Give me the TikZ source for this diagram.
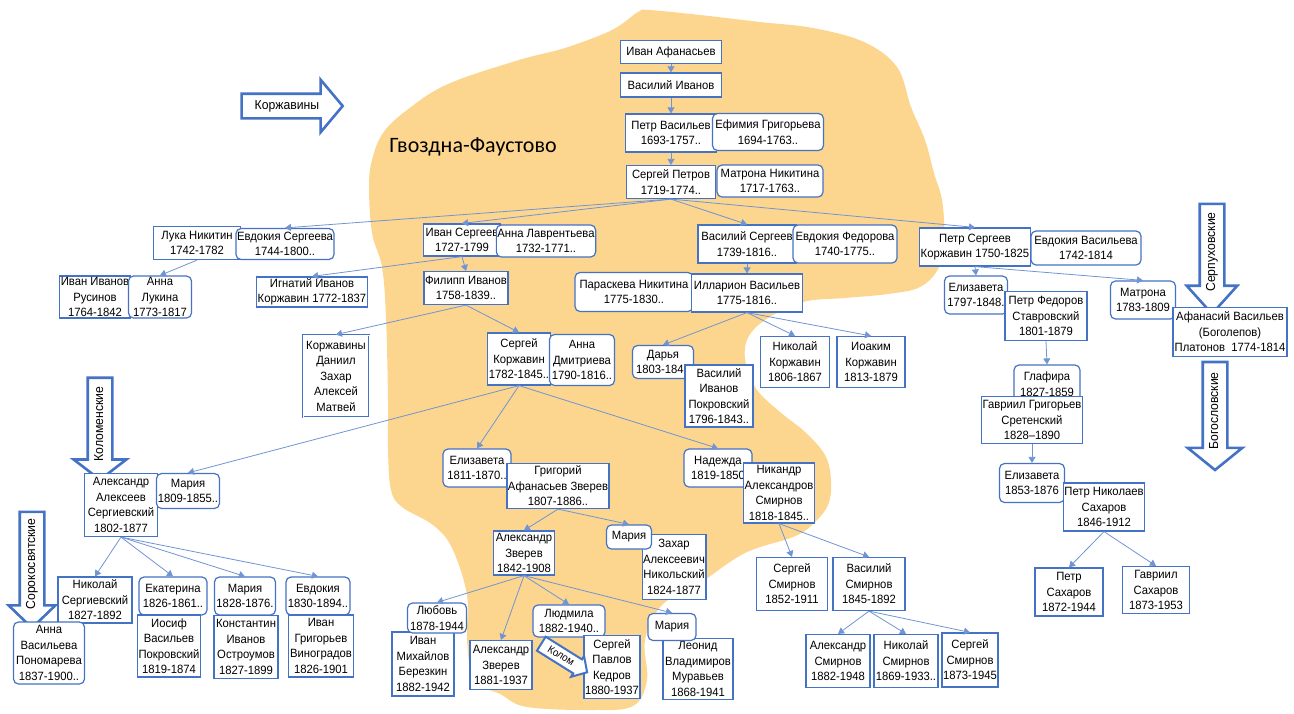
\documentclass[tikz,border=0pt]{standalone}
\usepackage{fontspec}
\setmainfont[FakeStretch=0.94]{Liberation Sans}
\newfontfamily\titlefont{Carlito}
\usetikzlibrary{arrows.meta,shapes.arrows}
\definecolor{boxblue}{RGB}{68,114,196}
\definecolor{linkblue}{RGB}{112,148,212}
\definecolor{blobfill}{RGB}{252,214,142}
\begin{document}
\begin{tikzpicture}[x=1pt, y=-1pt,
  every node/.style={font=\fontsize{12}{15.5}\selectfont, align=center, inner sep=1pt},
  man/.style={draw=boxblue, line width=1.2pt, fill=white},
  woman/.style={man, rounded corners=5pt},
  link/.style={draw=linkblue, line width=0.8pt, -{Triangle[length=6pt,width=7pt]}},
  clanarrow/.style={single arrow, draw=boxblue, line width=2.6pt, fill=white, font=\fontsize{13}{15}\selectfont,
    text height=9pt, text depth=3pt, inner xsep=3pt, inner ysep=5pt}]

\useasboundingbox (0,0) rectangle (1294,713);

\fill[blobfill] plot[smooth cycle, tension=0.6] coordinates {
  (649,10) (700,15) (760,22) (813,28) (864,42) (897,67) (911,107) (925,140)
  (934,173) (942,200) (944,233) (939,267) (920,287) (888,294) (845,298) (803,302)
  (765,320) (747,340) (746,365) (757,390) (780,412) (805,432) (825,455) (831,480)
  (828,505) (812,525) (793,537) (745,553) (700,583) (662,605) (645,640) (647,680)
  (633,706) (593,710) (527,707) (500,694) (474,680) (467,640) (467,595) (452,548)
  (433,525) (402,507) (391,490) (388,450) (388,400) (386,317) (382,267) (372,233)
  (369,187) (372,160) (383,133) (407,110) (448,84) (519,60) (565,48) (612,30) (638,12)};

\node[font=\titlefont\fontsize{22}{26}\selectfont] (place) at (473,147) {Гвоздна-Фаустово};

\node[clanarrow, minimum height=101, single arrow head extend=14pt, single arrow tip angle=100] (korzhar) at (287,106) {Коржавины};
\node[clanarrow, rotate=90, shape border rotate=180, minimum height=102, single arrow head extend=14pt, single arrow tip angle=105] (kolomar) at (100,424) {Коломенские};
\node[clanarrow, rotate=90, shape border rotate=180, minimum height=116, single arrow head extend=11pt, single arrow tip angle=92] (sorokar) at (32,564) {Сорокосвятские};
\node[clanarrow, rotate=90, shape border rotate=180, minimum height=110, single arrow head extend=13pt, single arrow tip angle=84] (serpar) at (1212,252) {Серпуховские};
\node[clanarrow, rotate=90, shape border rotate=180, minimum height=108, single arrow head extend=15pt, single arrow tip angle=102] (bogar) at (1215,411) {Богословские};

\node[man, minimum width=101, minimum height=23] (ivanaf) at (671,52) {Иван Афанасьев};
\node[man, minimum width=101, minimum height=24] (vasiv) at (671,85) {Василий Иванов};
\node[man, minimum width=91, minimum height=38] (petrv) at (671,133) {Петр Васильев\\1693-1757..};
\node[woman, minimum width=111, minimum height=37] (efim) at (768,132) {Ефимия Григорьева\\1694-1763..};
\node[man, minimum width=89, minimum height=33] (sergp) at (671,182) {Сергей Петров\\1719-1774..};
\node[woman, minimum width=106, minimum height=32] (matrn) at (770,181) {Матрона Никитина\\1717-1763..};

\node[man, minimum width=87, minimum height=33] (luka) at (197,243) {Лука Никитин\\1742-1782};
\node[woman, minimum width=97, minimum height=31] (evdse) at (285,244) {Евдокия Сергеева\\1744-1800..};
\node[man, minimum width=77, minimum height=32] (ivans) at (462,240) {Иван Сергеев\\1727-1799};
\node[woman, minimum width=99, minimum height=32] (annal) at (546,241) {Анна Лаврентьева\\1732-1771..};
\node[man, minimum width=98, minimum height=38] (vasse) at (747,244) {Василий Сергеев\\1739-1816..};
\node[woman, minimum width=104, minimum height=38] (evdfe) at (845,244) {Евдокия Федорова\\1740-1775..};
\node[man, minimum width=111, minimum height=38] (petrse) at (975,247) {Петр Сергеев\\Коржавин 1750-1825};
\node[woman, minimum width=110, minimum height=34] (evdva) at (1086,248) {Евдокия Васильева\\1742-1814};

\node[man, minimum width=71, minimum height=42] (ivaniv) at (95,297) {Иван Иванов\\Русинов\\1764-1842};
\node[woman, minimum width=63, minimum height=42] (annlu) at (160,297) {Анна\\Лукина\\1773-1817};
\node[man, minimum width=110, minimum height=30] (ignat) at (312,292) {Игнатий Иванов\\Коржавин 1772-1837};
\node[man, minimum width=82, minimum height=33] (filip) at (466,288) {Филипп Иванов\\1758-1839..};
\node[woman, minimum width=118, minimum height=39] (parask) at (634,292) {Параскева Никитина\\1775-1830..};
\node[man, minimum width=111, minimum height=38] (illar) at (747,293) {Илларион Васильев\\1775-1816..};
\node[woman, minimum width=63, minimum height=38] (eliz97) at (976,295) {Елизавета\\1797-1848.};
\node[man, minimum width=82, minimum height=49] (petrf) at (1046,316) {Петр Федоров\\Ставровский\\1801-1879};
\node[woman, minimum width=65, minimum height=38] (matr83) at (1143,300) {Матрона\\1783-1809};
\node[man, minimum width=114, minimum height=49] (afan) at (1230,332) {Афанасий Васильев\\(Боголепов)\\Платонов\ \ 1774-1814};

\node[man, double, double distance=1pt, line width=0.8pt, minimum width=66, minimum height=82] (korzh) at (336,376) {Коржавины\\Даниил\\Захар\\Алексей\\Матвей};
\node[man, minimum width=61, minimum height=52] (sergk) at (519,359) {Сергей\\Коржавин\\1782-1845..};
\node[woman, minimum width=65, minimum height=51] (annd) at (582,360) {Анна\\Дмитриева\\1790-1816..};
\node[woman, minimum width=61, minimum height=33] (darya) at (663,362) {Дарья\\1803-1842};
\node[man, minimum width=68, minimum height=62] (vasip) at (719,396) {Василий\\Иванов\\Покровский\\1796-1843..};
\node[man, minimum width=69, minimum height=51] (nikk) at (795,362) {Николай\\Коржавин\\1806-1867};
\node[man, minimum width=68, minimum height=51] (ioak) at (871,362) {Иоаким\\Коржавин\\1813-1879};
\node[woman, minimum width=66, minimum height=38] (glaf) at (1047,384) {Глафира\\1827-1859};
\node[man, minimum width=100, minimum height=47] (gavr) at (1032,420) {Гавриил Григорьев\\Сретенский\\1828--1890};

\node[man, minimum width=73, minimum height=63] (aleks) at (121,505) {Александр\\Алексеев\\Сергиевский\\1802-1877};
\node[woman, minimum width=63, minimum height=35] (mar09) at (188,491) {Мария\\1809-1855..};
\node[woman, minimum width=68, minimum height=38] (eliz11) at (477,468) {Елизавета\\1811-1870..};
\node[man, minimum width=102, minimum height=45] (grig) at (558,486) {Григорий\\Афанасьев Зверев\\1807-1886..};
\node[woman, minimum width=68, minimum height=38] (nadez) at (718,468) {Надежда\\1819-1850};
\node[man, minimum width=71, minimum height=60] (nikand) at (779,493) {Никандр\\Александров\\Смирнов\\1818-1845..};
\node[woman, minimum width=65, minimum height=39] (eliz53) at (1032,483) {Елизавета\\1853-1876};
\node[man, minimum width=78, minimum height=48] (petrn) at (1104,507) {Петр Николаев\\Сахаров\\1846-1912};

\node[man, minimum width=61, minimum height=44] (alexz) at (524,553) {Александр\\Зверев\\1842-1908};
\node[man, minimum width=63, minimum height=65] (zakh) at (674,567) {Захар\\Алексеевич\\Никольский\\1824-1877};
\node[woman, minimum width=45, minimum height=24] (marz) at (629,537) {Мария};
\node[man, minimum width=71, minimum height=53] (serss) at (792,584) {Сергей\\Смирнов\\1852-1911};
\node[man, minimum width=72, minimum height=53] (vassm) at (869,584) {Василий\\Смирнов\\1845-1892};
\node[man, minimum width=68, minimum height=48] (petrsa) at (1069,592) {Петр\\Сахаров\\1872-1944};
\node[man, minimum width=67, minimum height=47] (gavrsa) at (1156,590) {Гавриил\\Сахаров\\1873-1953};

\node[man, minimum width=74, minimum height=46] (niks) at (95,600) {Николай\\Сергиевский\\1827-1892};
\node[woman, minimum width=68, minimum height=38] (ekat) at (173,596) {Екатерина\\1826-1861..};
\node[woman, minimum width=61, minimum height=38] (mar28) at (245,596) {Мария\\1828-1876.};
\node[woman, minimum width=64, minimum height=38] (evd30) at (318,596) {Евдокия\\1830-1894..};
\node[man, minimum width=62, minimum height=62] (iosif) at (169,646) {Иосиф\\Васильев\\Покровский\\1819-1874};
\node[man, minimum width=64, minimum height=63] (konst) at (246,647) {Константин\\Иванов\\Остроумов\\1827-1899};
\node[man, minimum width=65, minimum height=62] (ivang) at (321,646) {Иван\\Григорьев\\Виноградов\\1826-1901};
\node[woman, minimum width=71, minimum height=62] (annv) at (49,653) {Анна\\Васильева\\Пономарева\\1837-1900..};

\node[man, minimum width=62, minimum height=64] (ivanm) at (423,664) {Иван\\Михайлов\\Березкин\\1882-1942};
\node[woman, minimum width=59, minimum height=30] (lyub) at (437,618) {Любовь\\1878-1944};
\node[man, minimum width=62, minimum height=49] (alex81) at (501,665) {Александр\\Зверев\\1881-1937};
\node[woman, minimum width=72, minimum height=32] (lyud) at (569,621) {Людмила\\1882-1940..};
\node[man, minimum width=55, minimum height=63] (sergpk) at (612,667) {Сергей\\Павлов\\Кедров\\1880-1937};
\node[man, minimum width=70, minimum height=61] (leon) at (698,669) {Леонид\\Владимиров\\Муравьев\\1868-1941};
\node[woman, minimum width=48, minimum height=27] (marm) at (672,627) {Мария};
\node[man, minimum width=64, minimum height=53] (alexs) at (838,661) {Александр\\Смирнов\\1882-1948};
\node[man, minimum width=64, minimum height=53] (niksm) at (906,661) {Николай\\Смирнов\\1869-1933..};
\node[man, minimum width=55, minimum height=54] (sergsm) at (970,660) {Сергей\\Смирнов\\1873-1945};

\node[clanarrow, font=\fontsize{10.5}{12}\selectfont, line width=2pt, text height=7.5pt, text depth=1pt, inner ysep=3pt, inner xsep=2pt, rotate=-32, minimum height=54, single arrow head extend=4pt, single arrow tip angle=95] (kolar) at (561,656) {Колом};

\foreach \a/\b in {ivanaf/vasiv, vasiv/petrv, petrv/sergp, sergp/evdse, sergp/ivans, sergp/vasse, sergp/petrse,
    luka/annlu, ivans/filip, ivans/ignat, filip/korzh, filip/sergk, sergk/mar09, sergk/eliz11, sergk/nadez,
    vasse/illar, illar/darya, illar/nikk, illar/ioak, petrse/eliz97, petrse/matr83, petrf/glaf, gavr/eliz53,
    petrn/petrsa, petrn/gavrsa, aleks/niks, aleks/ekat, aleks/mar28, aleks/evd30, grig/alexz, grig/marz,
    alexz/lyub, alexz/alex81, alexz/lyud, alexz/marm, nikand/serss, nikand/vassm,
    vassm/alexs, vassm/niksm, vassm/sergsm}
    \draw[link] (\a.south) -- (\b.north);

\end{tikzpicture}
\end{document}
